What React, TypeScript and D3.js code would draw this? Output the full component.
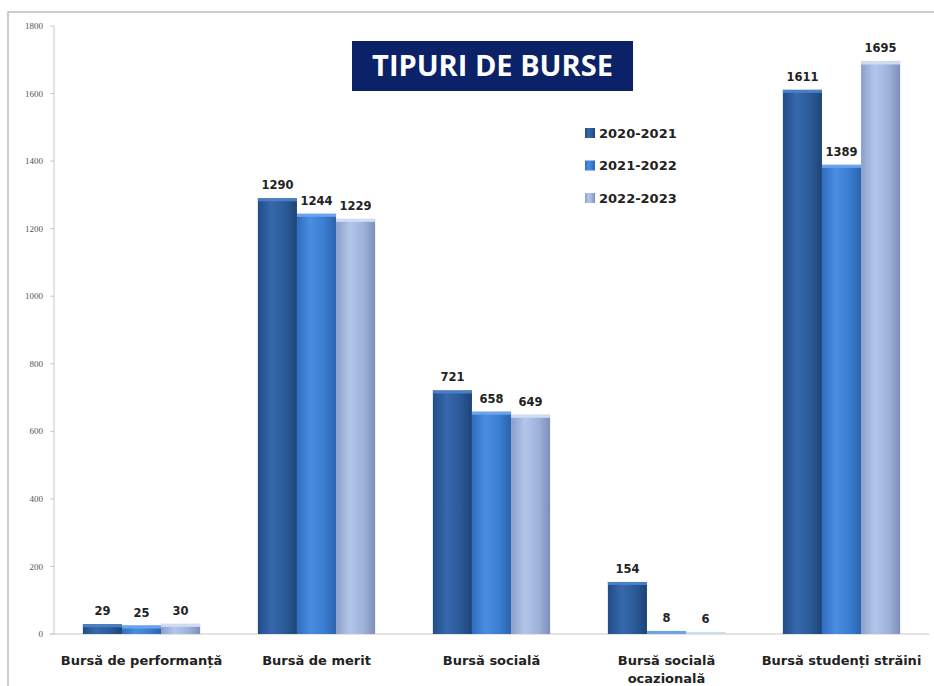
import React from "react";
import * as d3 from "d3";

const categories = [
  ["Bursă de performanță"],
  ["Bursă de merit"],
  ["Bursă socială"],
  ["Bursă socială", "ocazională"],
  ["Bursă studenți străini"],
];
const seriesNames = ["2020-2021", "2021-2022", "2022-2023"];
const s2020 = [29, 1290, 721, 154, 1611];
const s2021 = [25, 1244, 658, 8, 1389];
const s2022 = [30, 1229, 649, 6, 1695];
const yTicks = [0, 200, 400, 600, 800, 1000, 1200, 1400, 1600, 1800];
const title = "TIPURI DE BURSE";

const W = 934;
const H = 686;

export default function App() {
  const series = [s2020, s2021, s2022];
  const x0 = d3
    .scaleBand<number>()
    .domain(categories.map((_, i) => i))
    .range([54, 929])
    .paddingInner(0.33)
    .paddingOuter(0.165);
  const x1 = d3.scaleBand<number>().domain([0, 1, 2]).range([0, x0.bandwidth()]);
  const y = d3.scaleLinear().domain([0, 1800]).range([634, 26]);

  const grads = [
    { id: "g0", stops: ["#224c86", "#3668ad", "#2b5a98", "#1e4476"], cap: "#4a7fc4" },
    { id: "g1", stops: ["#2f6cbf", "#4a8ee0", "#3b7dd0", "#2c63ad"], cap: "#6aa4ea" },
    { id: "g2", stops: ["#8a9fca", "#b3c6ea", "#9fb2da", "#7d8fb8"], cap: "#cfdcf3" },
  ];

  return (
    <svg width={W} height={H} style={{ position: "absolute", left: 0, top: 0, background: "#fff" }}>
      <defs>
        {grads.map((g) => (
          <linearGradient key={g.id} id={g.id} x1="0" x2="1" y1="0" y2="0">
            <stop offset="0" stopColor={g.stops[0]} />
            <stop offset="0.35" stopColor={g.stops[1]} />
            <stop offset="0.7" stopColor={g.stops[2]} />
            <stop offset="1" stopColor={g.stops[3]} />
          </linearGradient>
        ))}
      </defs>
      <rect x={8} y={12} width={940} height={700} fill="#fff" stroke="#bdbdbd" strokeWidth={1.5} />
      {/* y axis */}
      <line x1={54} x2={54} y1={y(1800)} y2={y(0)} stroke="#c8c8c8" />
      <line x1={50} x2={929} y1={y(0)} y2={y(0)} stroke="#c8c8c8" />
      {yTicks.map((t) => (
        <g key={t}>
          <line x1={50} x2={54} y1={y(t)} y2={y(t)} stroke="#c8c8c8" />
          <text
            x={43}
            y={y(t)}
            dy="0.35em"
            textAnchor="end"
            fontFamily="Liberation Serif"
            fontSize={9}
            fill="#555"
          >
            {t}
          </text>
        </g>
      ))}
      {/* bars */}
      {categories.map((_, ci) =>
        series.map((s, si) => {
          const bx = (x0(ci) as number) + (x1(si) as number);
          const bw = x1.bandwidth();
          const by = y(s[ci]);
          const bh = y(0) - by;
          return (
            <g key={`${ci}-${si}`}>
              <rect x={bx} y={by} width={bw} height={bh} fill={`url(#${grads[si].id})`} />
              <rect x={bx} y={by} width={bw} height={Math.min(3, bh)} fill={grads[si].cap} />
              <text
                x={bx + bw / 2}
                y={by - 9}
                textAnchor="middle"
                fontFamily="DejaVu Sans"
                fontWeight="bold"
                fontSize={11.5}
                fill="#222"
              >
                {s[ci]}
              </text>
            </g>
          );
        })
      )}
      {/* category labels */}
      {categories.map((lines, ci) => (
        <text
          key={ci}
          x={(x0(ci) as number) + x0.bandwidth() / 2}
          y={665}
          textAnchor="middle"
          fontFamily="DejaVu Sans"
          fontWeight="bold"
          fontSize={13}
          fill="#222"
        >
          {lines.map((l, li) => (
            <tspan key={li} x={(x0(ci) as number) + x0.bandwidth() / 2} dy={li === 0 ? 0 : 18}>
              {l}
            </tspan>
          ))}
        </text>
      ))}
      {/* title */}
      <rect x={352} y={41} width={281} height={50} fill="#0b2268" />
      <text
        x={492.5}
        y={66}
        dy="0.36em"
        textAnchor="middle"
        fontFamily="Open Sans"
        fontWeight="bold"
        fontSize={29}
        fill="#fff"
      >
        {title}
      </text>
      {/* legend */}
      {seriesNames.map((n, i) => (
        <g key={n} transform={`translate(585, ${133 + i * 32.5})`}>
          <rect x={0} y={-5} width={10} height={10} fill={`url(#${grads[i].id})`} />
          <text x={14} y={0} dy="0.35em" fontFamily="DejaVu Sans" fontWeight="bold" fontSize={13} fill="#222">
            {n}
          </text>
        </g>
      ))}
    </svg>
  );
}
